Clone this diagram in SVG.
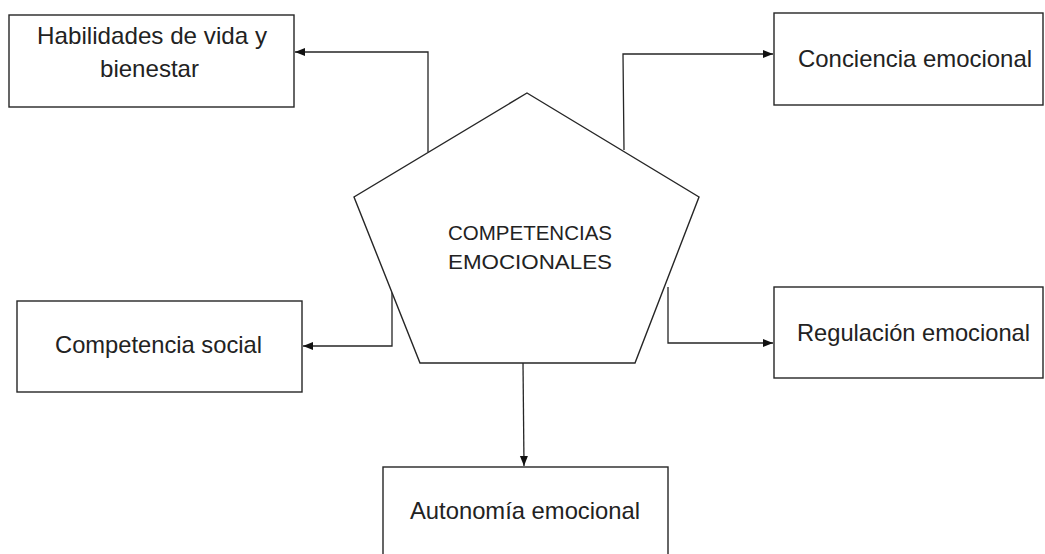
<svg xmlns="http://www.w3.org/2000/svg" width="1045" height="554" viewBox="0 0 1045 554">
<style>
.box{fill:#fff;stroke:#262626;stroke-width:1.4}
.lbl{font-family:"Liberation Sans",Arial,sans-serif;font-size:24px;fill:#222}
.ctr{font-family:"Liberation Sans",Arial,sans-serif;font-size:20.5px;fill:#222}
.con{fill:none;stroke:#262626;stroke-width:1.3}
</style>
<defs>
<marker id="ah" viewBox="0 0 10 10" refX="10" refY="5" markerWidth="10" markerHeight="10" markerUnits="userSpaceOnUse" orient="auto">
<path d="M0,1 L10,5 L0,9 Z" fill="#111"/>
</marker>
</defs>
<rect width="1045" height="554" fill="#fff"/>
<g id="connectors">
<path class="con" d="M428,152 L428,52 L295,52" marker-end="url(#ah)"/>
<path class="con" d="M624,150 L623,54 L773,54" marker-end="url(#ah)"/>
<path class="con" d="M392,291 L392,346 L303,346" marker-end="url(#ah)"/>
<path class="con" d="M668,287 L668,343 L773,343" marker-end="url(#ah)"/>
<path class="con" d="M523,363 L524,466" marker-end="url(#ah)"/>
</g>
<g id="center">
<polygon class="box" points="527,93 699,197 635,363 420,363 354,197"/>
<text class="ctr" x="530" y="240" text-anchor="middle" textLength="164" lengthAdjust="spacingAndGlyphs">COMPETENCIAS</text>
<text class="ctr" x="530" y="269" text-anchor="middle" textLength="164" lengthAdjust="spacingAndGlyphs">EMOCIONALES</text>
</g>
<g id="habilidades">
<rect class="box" x="9" y="15" width="285" height="92"/>
<text class="lbl" x="37" y="44" textLength="230" lengthAdjust="spacingAndGlyphs">Habilidades de vida y</text>
<text class="lbl" x="100" y="77" textLength="99" lengthAdjust="spacingAndGlyphs">bienestar</text>
</g>
<g id="conciencia">
<rect class="box" x="774" y="13" width="269" height="92"/>
<text class="lbl" x="798" y="67" textLength="234" lengthAdjust="spacingAndGlyphs">Conciencia emocional</text>
</g>
<g id="social">
<rect class="box" x="17" y="301" width="285" height="91"/>
<text class="lbl" x="55" y="353" textLength="207" lengthAdjust="spacingAndGlyphs">Competencia social</text>
</g>
<g id="regulacion">
<rect class="box" x="774" y="287" width="269" height="91"/>
<text class="lbl" x="797" y="341" textLength="233" lengthAdjust="spacingAndGlyphs">Regulación emocional</text>
</g>
<g id="autonomia">
<rect class="box" x="383" y="467" width="285" height="100"/>
<text class="lbl" x="410" y="519" textLength="230" lengthAdjust="spacingAndGlyphs">Autonomía emocional</text>
</g>
</svg>
